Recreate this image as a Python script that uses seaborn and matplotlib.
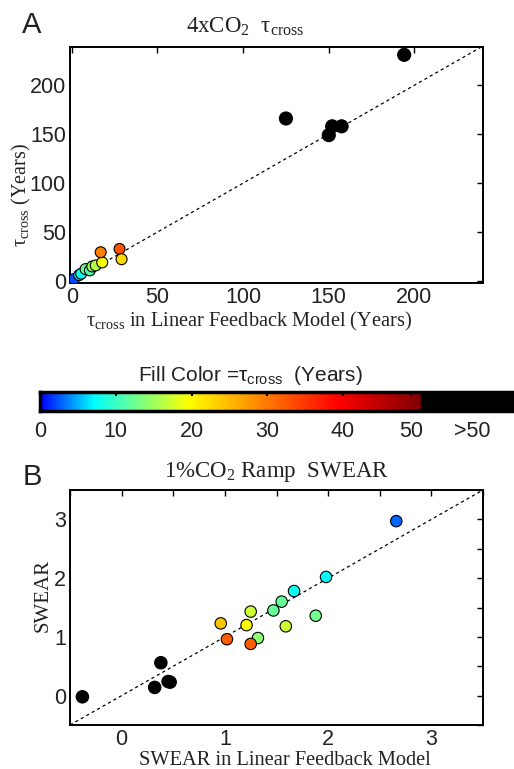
import numpy as np
import pandas as pd
import matplotlib
matplotlib.use("Agg")
import matplotlib.pyplot as plt
from matplotlib.colors import LinearSegmentedColormap, Normalize
import seaborn as sns

# ── Panel A: 4xCO2 tau_cross (GCM vs linear feedback model) ──────────
a_model = [1.3, 4.3, 5.5, 8.1, 10.6, 12.0, 14.0, 17.8, 16.9, 27.9, 29.1,
           125.0, 150.0, 152.0, 157.5, 194.0]
a_gcm = [2.0, 6.0, 7.5, 12.2, 10.9, 14.9, 15.9, 19.0, 29.4, 32.8, 22.3,
         166.0, 149.0, 158.0, 158.0, 231.0]
a_tau = a_gcm

# ── Panel B: 1%CO2 ramp SWEAR ────────────────────────────────────────
b_model = [2.66, 1.98, 1.67, 1.55, 1.47, 1.88, 1.32, 1.25, 1.59, 1.21,
           0.96, 1.02, 1.25, 0.38, 0.45, 0.47, 0.32, -0.38]
b_gcm = [2.97, 2.02, 1.78, 1.60, 1.45, 1.36, 0.98, 1.43, 1.18, 1.20,
         1.23, 0.96, 0.88, 0.56, 0.24, 0.23, 0.14, -0.02]
b_tau = [2.8, 7.0, 7.5, 12.0, 12.0, 12.5, 14.0, 17.0, 17.0, 19.5,
         24.0, 32.0, 32.0, 80.0, 80.0, 80.0, 80.0, 80.0]

a_diag = [0, 240]
b_diag = [-0.5, 3.5]

cbar_ticks = [0, 10, 20, 30, 40, 49, 57]
cbar_labels = ["0", "10", "20", "30", "40", "50", ">50"]

# ── style ────────────────────────────────────────────────────────────
sns.set_style("white")
plt.rcParams["font.family"] = ["Liberation Sans", "DejaVu Sans"]
plt.rcParams["mathtext.default"] = "regular"
SERIF = ["Liberation Serif", "DejaVu Serif"]
TXT = "#222222"

cmap = LinearSegmentedColormap.from_list(
    "tau", [(0.0, (0, 0, 1)), (7 / 50, (0, 1, 1)), (19.5 / 50, (1, 1, 0)),
            (39 / 50, (1, 0, 0)), (1.0, (0.5, 0, 0))])
cmap.set_over("black")
norm = Normalize(0, 50)


def scatter(ax, x, y, tau, s_col, s_blk):
    df = pd.DataFrame({"x": x, "y": y, "tau": tau})
    df["k"] = np.arange(len(df))
    pal = {k: cmap(norm(t)) for k, t in zip(df["k"], df["tau"])}
    blk = df[df["tau"] > 50]
    col = df[df["tau"] <= 50]
    sns.scatterplot(data=blk, x="x", y="y", hue="k", palette=pal, s=s_blk,
                    edgecolor="black", linewidth=0.8, legend=False, ax=ax, zorder=3)
    sns.scatterplot(data=col, x="x", y="y", hue="k", palette=pal, s=s_col,
                    edgecolor="black", linewidth=0.8, legend=False, ax=ax, zorder=3)
    ax.set_xlabel("")
    ax.set_ylabel("")


def style_axes(ax):
    for sp in ax.spines.values():
        sp.set_color("black")
        sp.set_linewidth(1.4)
    ax.tick_params(which="both", direction="in", top=True, right=True,
                   color="black", width=1.0, labelsize=15.5, labelcolor=TXT, pad=3)
    ax.tick_params(which="major", length=4)
    ax.tick_params(which="minor", length=4)


W, H = 514, 769
fig = plt.figure(figsize=(W / 100, H / 100), dpi=100)


def fx(px):
    return px / W


def fy(py):
    return 1 - py / H


# ── Panel A ──────────────────────────────────────────────────────────
axa = fig.add_axes([fx(70), fy(283), fx(413), 236 / H])
axa.plot(a_diag, a_diag, color="black", lw=0.9, ls=(0, (2.5, 2.5)), zorder=2)
scatter(axa, a_model, a_gcm, a_tau, 62, 88)
axa.set_xlim(-1, 240)
axa.set_ylim(-2, 239)
axa.set_xticks([0, 50, 100, 150, 200])
axa.set_yticks([0, 50, 100, 150, 200])
style_axes(axa)

fig.text(fx(32), fy(33), "A", fontsize=21, color=TXT, ha="center", va="baseline")
fig.text(fx(245), fy(33), r"4xCO$_{2}$  τ$_{cross}$", family=SERIF,
         fontsize=16.5, color=TXT, ha="center", va="baseline")
fig.text(fx(249), fy(326), r"τ$_{cross}$ in Linear Feedback Model (Years)",
         family=SERIF, fontsize=14.7, color=TXT, ha="center", va="baseline")
fig.text(fx(26), fy(195), r"τ$_{cross}$ (Years)", family=SERIF, fontsize=14.5,
         color=TXT, ha="center", va="baseline", rotation=90, rotation_mode="anchor")

# ── colour bar ───────────────────────────────────────────────────────
axc = fig.add_axes([fx(40), fy(411), fx(500), 19 / H])
grad = np.linspace(0, 50, 256)
axc.imshow(grad[np.newaxis, :], cmap=cmap, norm=norm, aspect="auto",
           extent=[0, 50.3, 0, 1])
axc.axvspan(50.3, 70, color="black")
axc.set_xlim(0, 66)
axc.set_ylim(0, 1)
axc.set_yticks([])
axc.set_xticks(cbar_ticks)
axc.set_xticklabels(cbar_labels)
for sp in axc.spines.values():
    sp.set_color("black")
    sp.set_linewidth(2.5)
axc.tick_params(axis="x", direction="in", top=True, length=3, width=1.5,
                color="black", labelsize=15.5, labelcolor=TXT, pad=7)
fig.text(fx(250), fy(381.5), r"Fill Color =τ$_{cross}$  (Years)", fontsize=15,
         color=TXT, ha="center", va="baseline")

# ── Panel B ──────────────────────────────────────────────────────────
axb = fig.add_axes([fx(70), fy(725), fx(413), 235 / H])
axb.plot(b_diag, b_diag, color="black", lw=0.9, ls=(0, (2.5, 2.5)), zorder=2)
scatter(axb, b_model, b_gcm, b_tau, 68, 80)
axb.set_xlim(-0.5, 3.5)
axb.set_ylim(-0.5, 3.5)
axb.set_xticks([0, 1, 2, 3])
axb.set_yticks([0, 1, 2, 3])
axb.set_xticks([-0.5, 0.5, 1.5, 2.5, 3.5], minor=True)
axb.set_yticks([-0.5, 0.5, 1.5, 2.5, 3.5], minor=True)
style_axes(axb)

fig.text(fx(32), fy(485), "B", fontsize=21, color=TXT, ha="center", va="baseline")
fig.text(fx(276), fy(477), r"1%CO$_{2}$ Ramp  SWEAR", family=SERIF,
         fontsize=16.5, color=TXT, ha="center", va="baseline")
fig.text(fx(285), fy(765), "SWEAR in Linear Feedback Model", family=SERIF,
         fontsize=14.7, color=TXT, ha="center", va="baseline")
fig.text(fx(48), fy(596), "SWEAR", family=SERIF, fontsize=15, color=TXT,
         ha="center", va="baseline", rotation=90, rotation_mode="anchor")

fig.savefig("out.png", dpi=100)
